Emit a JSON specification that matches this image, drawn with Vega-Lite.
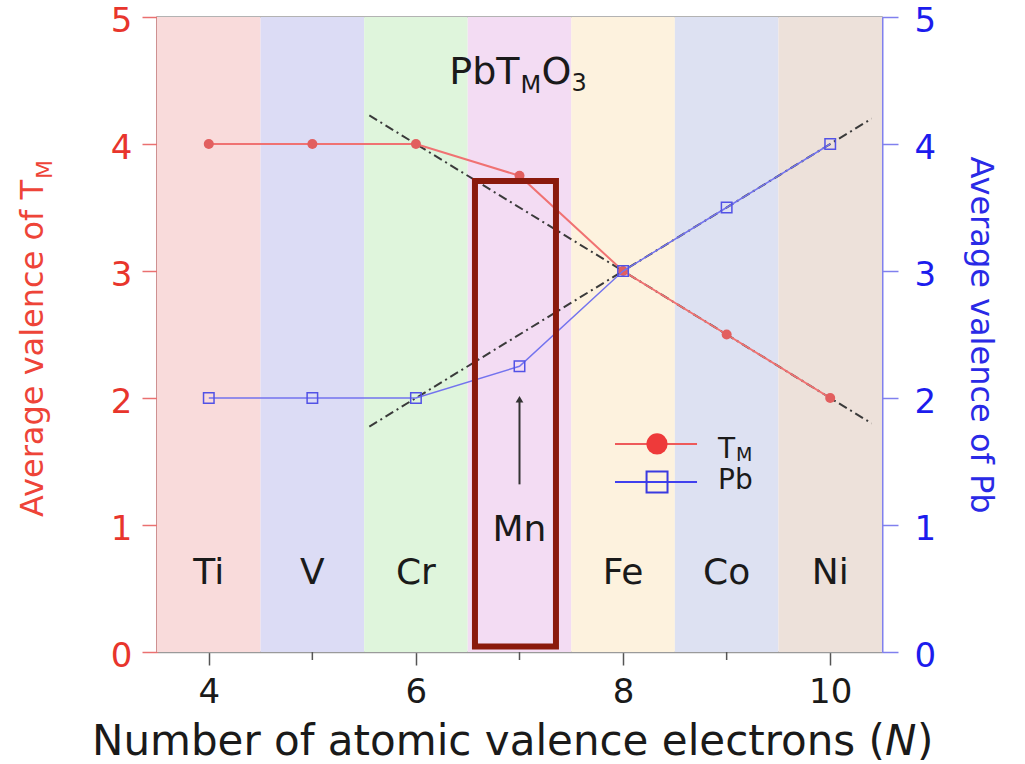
{
  "$schema": "https://vega.github.io/schema/vega-lite/v6.json",
  "width": 725,
  "height": 635,
  "autosize": {"type": "none"},
  "padding": {"left": 157, "top": 17, "right": 143, "bottom": 112},
  "background": "white",
  "config": {"font": "DejaVu Sans", "view": {"stroke": "#9a9a9a", "strokeWidth": 1.5}},
  "datasets": {
    "bands": [
      {"el": "Ti", "x0": 3.5, "x1": 4.5},
      {"el": "V", "x0": 4.5, "x1": 5.5},
      {"el": "Cr", "x0": 5.5, "x1": 6.5},
      {"el": "Mn", "x0": 6.5, "x1": 7.5},
      {"el": "Fe", "x0": 7.5, "x1": 8.5},
      {"el": "Co", "x0": 8.5, "x1": 9.5},
      {"el": "Ni", "x0": 9.5, "x1": 10.5}
    ],
    "series": [
      {"el": "Ti", "N": 4, "tm": 4, "pb": 2},
      {"el": "V", "N": 5, "tm": 4, "pb": 2},
      {"el": "Cr", "N": 6, "tm": 4, "pb": 2},
      {"el": "Mn", "N": 7, "tm": 3.75, "pb": 2.25},
      {"el": "Fe", "N": 8, "tm": 3, "pb": 3},
      {"el": "Co", "N": 9, "tm": 2.5, "pb": 3.5},
      {"el": "Ni", "N": 10, "tm": 2, "pb": 4}
    ],
    "guides": [
      {"g": "a", "N": 5.55, "v": 4.225},
      {"g": "a", "N": 10.4, "v": 1.8},
      {"g": "b", "N": 5.55, "v": 1.775},
      {"g": "b", "N": 10.4, "v": 4.2}
    ],
    "one": [{}]
  },
  "resolve": {"axis": {"x": "independent", "y": "independent"}},
  "layer": [
    {
      "data": {"name": "bands"},
      "mark": {"type": "rect"},
      "encoding": {
        "x": {"field": "x0", "type": "quantitative", "scale": {"domain": [3.5, 10.5], "nice": false, "zero": false},
          "axis": {"values": [4, 6, 8, 10], "tickSize": 13, "tickColor": "#555555", "tickWidth": 1.5,
            "domainColor": "#9a9a9a", "domainWidth": 1.5, "labelFontSize": 34, "labelColor": "#1a1a1a",
            "labelPadding": 10, "grid": false, "title": null}},
        "x2": {"field": "x1"},
        "color": {"field": "el", "type": "nominal", "legend": null,
          "scale": {"domain": ["Ti", "V", "Cr", "Mn", "Fe", "Co", "Ni"],
            "range": ["#f9dbdb", "#dcdcf5", "#dff5dc", "#f3dcf3", "#fdf2de", "#dde1f2", "#ede1da"]}}
      }
    },
    {
      "data": {"name": "guides"},
      "mark": {"type": "line", "color": "#3a3a3a", "strokeWidth": 2, "strokeDash": [9, 4, 2, 4]},
      "encoding": {
        "x": {"field": "N", "type": "quantitative", "scale": {"domain": [3.5, 10.5], "nice": false, "zero": false}, "axis": null},
        "y": {"field": "v", "type": "quantitative", "scale": {"domain": [0, 5], "nice": false}, "axis": null},
        "detail": {"field": "g"}
      }
    },
    {
      "data": {"name": "series"},
      "mark": {"type": "line", "color": "#f07272", "strokeWidth": 2},
      "encoding": {
        "x": {"field": "N", "type": "quantitative", "scale": {"domain": [3.5, 10.5], "nice": false, "zero": false}, "axis": null},
        "y": {"field": "tm", "type": "quantitative", "scale": {"domain": [0, 5], "nice": false},
          "axis": {"orient": "left", "values": [0, 1, 2, 3, 4, 5], "tickSize": 15, "tickColor": "#ea7070", "tickWidth": 1.5,
            "domainColor": "#ea7070", "domainWidth": 2, "labelColor": "#e8352c", "labelFontSize": 34, "labelPadding": 10,
            "labelOffset": 4, "grid": false, "title": null}}
      }
    },
    {
      "data": {"name": "series"},
      "mark": {"type": "circle", "color": "#e25f5f", "opacity": 1, "size": 100},
      "encoding": {
        "x": {"field": "N", "type": "quantitative", "scale": {"domain": [3.5, 10.5], "nice": false, "zero": false}, "axis": null},
        "y": {"field": "tm", "type": "quantitative", "scale": {"domain": [0, 5], "nice": false}, "axis": null}
      }
    },
    {
      "data": {"name": "series"},
      "mark": {"type": "line", "color": "#7373ee", "strokeWidth": 1.5},
      "encoding": {
        "x": {"field": "N", "type": "quantitative", "scale": {"domain": [3.5, 10.5], "nice": false, "zero": false}, "axis": null},
        "y": {"field": "pb", "type": "quantitative", "scale": {"domain": [0, 5], "nice": false},
          "axis": {"orient": "right", "values": [0, 1, 2, 3, 4, 5], "tickSize": 16, "tickColor": "#8080ee", "tickWidth": 1.5,
            "domainColor": "#8080ee", "domainWidth": 2, "labelColor": "#1c1ced", "labelFontSize": 34, "labelPadding": 16,
            "labelOffset": 4, "grid": false, "title": "Average valence of Pb", "titleColor": "#2a2ae6", "titleFontSize": 32,
            "titleFontWeight": "normal", "titlePadding": 28}}
      }
    },
    {
      "data": {"name": "series"},
      "mark": {"type": "point", "shape": "square", "filled": false, "color": "#5252e6", "strokeWidth": 1.5, "size": 110, "opacity": 1},
      "encoding": {
        "x": {"field": "N", "type": "quantitative", "scale": {"domain": [3.5, 10.5], "nice": false, "zero": false}, "axis": null},
        "y": {"field": "pb", "type": "quantitative", "scale": {"domain": [0, 5], "nice": false}, "axis": null}
      }
    },
    {
      "data": {"name": "series"},
      "transform": [{"filter": "datum.N % 2 === 1"}],
      "mark": {"type": "rule", "color": "#555555", "strokeWidth": 1.5, "clip": false},
      "encoding": {
        "x": {"field": "N", "type": "quantitative", "scale": {"domain": [3.5, 10.5], "nice": false, "zero": false}, "axis": null},
        "y": {"datum": 0, "scale": {"domain": [0, 5], "nice": false}, "axis": null},
        "y2": {"datum": -0.063}
      }
    },
    {
      "data": {"name": "series"},
      "transform": [{"filter": "datum.el !== 'Mn'"}],
      "mark": {"type": "text", "fontSize": 36, "color": "#1a1a1a", "align": "center", "baseline": "alphabetic"},
      "encoding": {
        "x": {"field": "N", "type": "quantitative", "scale": {"domain": [3.5, 10.5], "nice": false, "zero": false}, "axis": null},
        "y": {"datum": 0.535, "scale": {"domain": [0, 5], "nice": false}, "axis": null},
        "text": {"field": "el"}
      }
    },
    {
      "data": {"name": "series"},
      "transform": [{"filter": "datum.el === 'Mn'"}],
      "mark": {"type": "text", "fontSize": 36, "color": "#1a1a1a", "align": "center", "baseline": "alphabetic"},
      "encoding": {
        "x": {"field": "N", "type": "quantitative", "scale": {"domain": [3.5, 10.5], "nice": false, "zero": false}, "axis": null},
        "y": {"datum": 0.874, "scale": {"domain": [0, 5], "nice": false}, "axis": null},
        "text": {"field": "el"}
      }
    },
    {
      "data": {"name": "one"},
      "mark": {"type": "rule", "color": "#333333", "strokeWidth": 2},
      "encoding": {
        "x": {"datum": 7, "axis": null},
        "y": {"datum": 1.32, "scale": {"domain": [0, 5], "nice": false}, "axis": null},
        "y2": {"datum": 1.98}
      }
    },
    {
      "data": {"name": "one"},
      "mark": {"type": "point", "shape": "triangle-up", "filled": true, "color": "#333333", "size": 60, "opacity": 1},
      "encoding": {
        "x": {"datum": 7, "axis": null},
        "y": {"datum": 1.99, "scale": {"domain": [0, 5], "nice": false}, "axis": null}
      }
    },
    {
      "data": {"name": "one"},
      "mark": {"type": "rect", "filled": false, "color": "#8a1a0c", "strokeWidth": 6},
      "encoding": {
        "x": {"datum": 6.57, "axis": null},
        "x2": {"datum": 7.352},
        "y": {"datum": 3.709, "scale": {"domain": [0, 5], "nice": false}, "axis": null},
        "y2": {"datum": 0.043}
      }
    },
    {
      "data": {"name": "one"},
      "mark": {"type": "text", "text": "PbT", "fontSize": 38, "color": "#1a1a1a", "align": "right", "baseline": "alphabetic"},
      "encoding": {
        "x": {"datum": 7, "axis": null},
        "y": {"datum": 4.47, "scale": {"domain": [0, 5], "nice": false}, "axis": null}
      }
    },
    {
      "data": {"name": "one"},
      "mark": {"type": "text", "text": "M", "fontSize": 24, "color": "#1a1a1a", "align": "left", "baseline": "alphabetic", "dx": 1, "dy": 9},
      "encoding": {
        "x": {"datum": 7, "axis": null},
        "y": {"datum": 4.47, "scale": {"domain": [0, 5], "nice": false}, "axis": null}
      }
    },
    {
      "data": {"name": "one"},
      "mark": {"type": "text", "text": "O", "fontSize": 38, "color": "#1a1a1a", "align": "left", "baseline": "alphabetic", "dx": 22},
      "encoding": {
        "x": {"datum": 7, "axis": null},
        "y": {"datum": 4.47, "scale": {"domain": [0, 5], "nice": false}, "axis": null}
      }
    },
    {
      "data": {"name": "one"},
      "mark": {"type": "text", "text": "3", "fontSize": 24, "color": "#1a1a1a", "align": "left", "baseline": "alphabetic", "dx": 52, "dy": 7},
      "encoding": {
        "x": {"datum": 7, "axis": null},
        "y": {"datum": 4.47, "scale": {"domain": [0, 5], "nice": false}, "axis": null}
      }
    },
    {
      "data": {"name": "one"},
      "mark": {"type": "rule", "color": "#ee5a5a", "strokeWidth": 2},
      "encoding": {
        "x": {"datum": 7.922, "axis": null},
        "x2": {"datum": 8.714},
        "y": {"datum": 1.638, "scale": {"domain": [0, 5], "nice": false}, "axis": null}
      }
    },
    {
      "data": {"name": "one"},
      "mark": {"type": "circle", "color": "#ee3a3a", "size": 450, "opacity": 1},
      "encoding": {
        "x": {"datum": 8.328, "axis": null},
        "y": {"datum": 1.638, "scale": {"domain": [0, 5], "nice": false}, "axis": null}
      }
    },
    {
      "data": {"name": "one"},
      "mark": {"type": "rule", "color": "#4040ee", "strokeWidth": 2},
      "encoding": {
        "x": {"datum": 7.922, "axis": null},
        "x2": {"datum": 8.714},
        "y": {"datum": 1.339, "scale": {"domain": [0, 5], "nice": false}, "axis": null}
      }
    },
    {
      "data": {"name": "one"},
      "mark": {"type": "point", "shape": "square", "filled": false, "color": "#3a3ae0", "strokeWidth": 2, "size": 440, "opacity": 1},
      "encoding": {
        "x": {"datum": 8.328, "axis": null},
        "y": {"datum": 1.339, "scale": {"domain": [0, 5], "nice": false}, "axis": null}
      }
    },
    {
      "data": {"name": "one"},
      "mark": {"type": "text", "text": "T", "fontSize": 28, "color": "#1a1a1a", "align": "left", "baseline": "alphabetic"},
      "encoding": {
        "x": {"datum": 8.917, "axis": null},
        "y": {"datum": 1.528, "scale": {"domain": [0, 5], "nice": false}, "axis": null}
      }
    },
    {
      "data": {"name": "one"},
      "mark": {"type": "text", "text": "M", "fontSize": 19, "color": "#1a1a1a", "align": "left", "baseline": "alphabetic", "dx": 18, "dy": 3},
      "encoding": {
        "x": {"datum": 8.917, "axis": null},
        "y": {"datum": 1.528, "scale": {"domain": [0, 5], "nice": false}, "axis": null}
      }
    },
    {
      "data": {"name": "one"},
      "mark": {"type": "text", "text": "Pb", "fontSize": 28, "color": "#1a1a1a", "align": "left", "baseline": "alphabetic"},
      "encoding": {
        "x": {"datum": 8.917, "axis": null},
        "y": {"datum": 1.283, "scale": {"domain": [0, 5], "nice": false}, "axis": null}
      }
    },
    {
      "data": {"name": "one"},
      "mark": {"type": "text", "text": "Average valence of T", "fontSize": 32, "color": "#ee4438", "align": "right", "baseline": "alphabetic", "angle": 270, "dy": -114},
      "encoding": {
        "x": {"datum": 3.5, "axis": null},
        "y": {"datum": 3.717, "scale": {"domain": [0, 5], "nice": false}, "axis": null}
      }
    },
    {
      "data": {"name": "one"},
      "mark": {"type": "text", "text": "M", "fontSize": 22, "color": "#ee4438", "align": "left", "baseline": "alphabetic", "angle": 270, "dx": 1, "dy": -105},
      "encoding": {
        "x": {"datum": 3.5, "axis": null},
        "y": {"datum": 3.717, "scale": {"domain": [0, 5], "nice": false}, "axis": null}
      }
    },
    {
      "data": {"name": "one"},
      "mark": {"type": "text", "text": "Number of atomic valence electrons (", "fontSize": 42, "color": "#1a1a1a", "align": "right", "baseline": "alphabetic", "dx": 3, "dy": 103},
      "encoding": {
        "x": {"datum": 10.5, "axis": null},
        "y": {"datum": 0, "scale": {"domain": [0, 5], "nice": false}, "axis": null}
      }
    },
    {
      "data": {"name": "one"},
      "mark": {"type": "text", "text": "N", "fontSize": 42, "fontStyle": "italic", "color": "#1a1a1a", "align": "left", "baseline": "alphabetic", "dx": 3, "dy": 103},
      "encoding": {
        "x": {"datum": 10.5, "axis": null},
        "y": {"datum": 0, "scale": {"domain": [0, 5], "nice": false}, "axis": null}
      }
    },
    {
      "data": {"name": "one"},
      "mark": {"type": "text", "text": ")", "fontSize": 42, "color": "#1a1a1a", "align": "left", "baseline": "alphabetic", "dx": 35, "dy": 103},
      "encoding": {
        "x": {"datum": 10.5, "axis": null},
        "y": {"datum": 0, "scale": {"domain": [0, 5], "nice": false}, "axis": null}
      }
    }
  ]
}
